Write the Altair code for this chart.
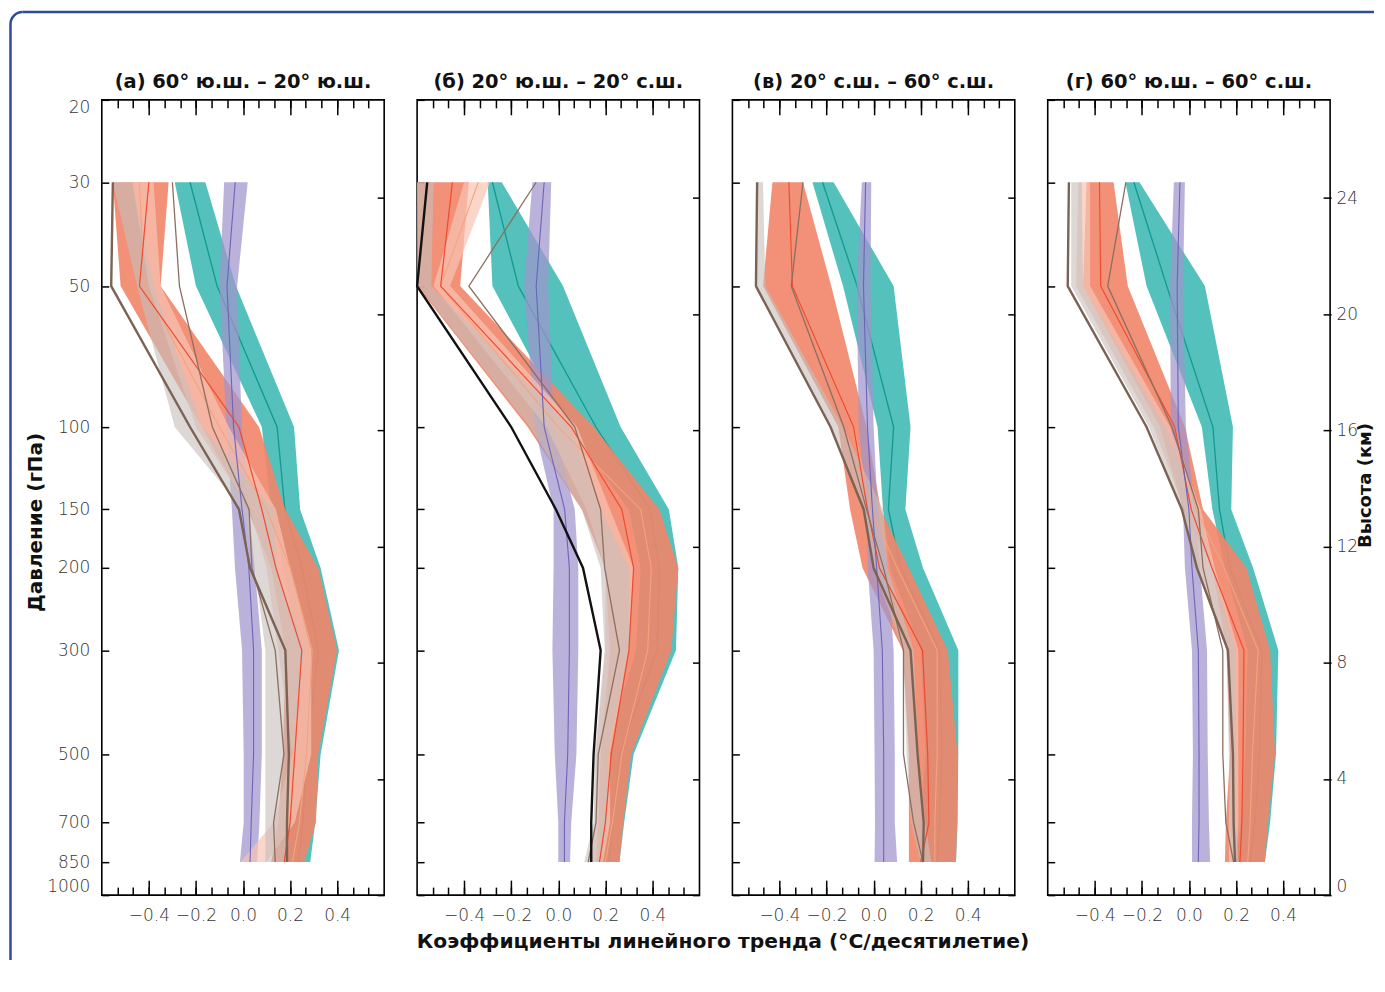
import math
import altair as alt
import pandas as pd

# ---------------- axis / text definitions ----------------
LEVELS = [30, 50, 100, 150, 200, 300, 500, 700, 850]
P_TICKS = [20, 30, 50, 100, 150, 200, 300, 500, 700, 850, 1000]
KM_TICKS = [0, 4, 8, 12, 16, 20, 24]
X_MAJOR = [-0.4, -0.2, 0.0, 0.2, 0.4]
X_MINOR = [round(-0.6 + k * 0.2 / 3, 4) for k in range(1, 18)]
SCALE_H = 7.0  # km, height = 7*ln(1000/p)
KM_AS_P = [1000 * math.exp(-z / SCALE_H) for z in KM_TICKS]

TITLES = ["(а) 60° ю.ш. – 20° ю.ш.", "(б) 20° ю.ш. – 20° с.ш.",
          "(в) 20° с.ш. – 60° с.ш.", "(г) 60° ю.ш. – 60° с.ш."]
X_TITLE = "Коэффициенты линейного тренда (°C/десятилетие)"
Y_TITLE = "Давление (гПа)"
Y2_TITLE = "Высота (км)"

# ---------------- data (°C/decade at LEVELS) ----------------
# panel (а)
A_TEAL_LO = [-0.29, -0.20, 0.08, 0.12, 0.17, 0.24, 0.21, 0.20, 0.18]
A_TEAL_HI = [-0.16, -0.03, 0.217, 0.243, 0.33, 0.408, 0.33, 0.307, 0.286]
A_TEAL_MID = [-0.225, -0.11, 0.145, 0.178, 0.25, 0.32, 0.27, 0.255, 0.235]
A_SALMON_LO = [-0.553, -0.52, -0.175, 0.02, 0.12, 0.18, 0.17, 0.15, 0.12]
A_SALMON_HI = [-0.316, -0.35, 0.068, 0.18, 0.32, 0.40, 0.32, 0.31, 0.26]
A_RED = [-0.40, -0.44, -0.017, 0.08, 0.14, 0.25, 0.22, 0.20, 0.175]
A_ORANGE = [-0.44, -0.42, -0.10, 0.10, 0.20, 0.294, 0.27, 0.24, 0.21]
A_PEACH_LO = [-0.47, -0.40, -0.20, 0.03, 0.10, 0.15, 0.21, 0.13, -0.01]
A_PEACH_HI = [-0.38, -0.35, -0.06, 0.14, 0.20, 0.29, 0.29, 0.22, 0.10]
A_GREY_LO = [-0.553, -0.45, -0.29, 0.0, 0.05, 0.095, 0.095, 0.095, 0.095]
A_GREY_HI = [-0.47, -0.38, -0.175, 0.13, 0.145, 0.26, 0.21, 0.18, 0.18]
A_PURPLE_LO = [-0.08, -0.10, -0.07, -0.047, -0.034, -0.004, 0.003, 0.003, -0.013]
A_PURPLE_HI = [0.02, -0.025, -0.005, 0.025, 0.05, 0.08, 0.08, 0.07, 0.06]
A_PURPLE_MID = [-0.033, -0.068, -0.04, -0.004, 0.025, 0.045, 0.045, 0.035, 0.03]
A_THICK = [-0.553, -0.56, -0.225, -0.017, 0.03, 0.18, 0.195, 0.187, 0.187]
A_THIN = [-0.30, -0.27, -0.13, 0.026, 0.038, 0.137, 0.174, 0.13, 0.137]

# panel (б)
B_TEAL_LO = [-0.30, -0.28, 0.04, 0.30, 0.35, 0.33, 0.20, 0.18, 0.17]
B_TEAL_HI = [-0.24, 0.02, 0.265, 0.47, 0.51, 0.50, 0.32, 0.28, 0.26]
B_TEAL_MID = [-0.28, -0.17, 0.16, 0.39, 0.43, 0.42, 0.26, 0.23, 0.215]
B_SALMON_LO = [-0.60, -0.60, -0.13, 0.10, 0.20, 0.22, 0.18, 0.17, 0.16]
B_SALMON_HI = [-0.38, -0.417, 0.15, 0.43, 0.51, 0.48, 0.31, 0.276, 0.26]
B_RED = [-0.45, -0.50, 0.055, 0.27, 0.32, 0.30, 0.225, 0.20, 0.175]
B_ORANGE = [-0.34, -0.50, 0.0, 0.35, 0.395, 0.38, 0.27, 0.23, 0.20]
B_PEACH_LO = [-0.40, -0.53, -0.05, 0.12, 0.20, 0.20, 0.16, 0.16, 0.13]
B_PEACH_HI = [-0.29, -0.46, 0.08, 0.22, 0.32, 0.30, 0.22, 0.22, 0.19]
B_GREY_LO = [-0.60, -0.596, -0.12, 0.10, 0.18, 0.197, 0.155, 0.15, 0.11]
B_GREY_HI = [-0.53, -0.54, 0.05, 0.18, 0.30, 0.30, 0.21, 0.21, 0.18]
B_PURPLE_LO = [-0.11, -0.145, -0.10, -0.02, -0.02, -0.025, -0.015, 0.0, 0.0]
B_PURPLE_HI = [-0.03, -0.043, -0.02, 0.07, 0.085, 0.085, 0.077, 0.055, 0.05]
B_PURPLE_MID = [-0.06, -0.094, -0.06, 0.027, 0.047, 0.047, 0.04, 0.026, 0.026]
B_THIN = [-0.094, -0.38, 0.07, 0.18, 0.197, 0.26, 0.17, 0.16, 0.127]
B_BLACK = [-0.557, -0.60, -0.20, -0.01, 0.105, 0.18, 0.15, 0.14, 0.14]

# panel (в)
C_TEAL_LO = [-0.26, -0.13, 0.017, 0.04, 0.07, 0.20, 0.22, 0.20, 0.20]
C_TEAL_HI = [-0.17, 0.085, 0.157, 0.135, 0.21, 0.36, 0.36, 0.357, 0.35]
C_TEAL_MID = [-0.217, -0.07, 0.085, 0.063, 0.115, 0.28, 0.29, 0.28, 0.27]
C_SALMON_LO = [-0.43, -0.47, -0.15, -0.10, -0.047, 0.124, 0.15, 0.15, 0.15]
C_SALMON_HI = [-0.30, -0.18, -0.03, 0.03, 0.15, 0.315, 0.357, 0.355, 0.35]
C_RED = [-0.36, -0.345, -0.085, -0.026, 0.025, 0.208, 0.23, 0.235, 0.20]
C_ORANGE = [-0.36, -0.345, -0.085, -0.01, 0.10, 0.27, 0.27, 0.26, 0.26]
C_GREY_LO = [-0.495, -0.50, -0.183, -0.042, 0.0, 0.127, 0.14, 0.16, 0.20]
C_GREY_HI = [-0.47, -0.46, -0.13, 0.04, 0.06, 0.17, 0.19, 0.22, 0.245]
C_PURPLE_LO = [-0.05, -0.072, -0.063, -0.03, -0.025, 0.0, 0.004, 0.006, 0.004]
C_PURPLE_HI = [-0.01, -0.013, 0.0, 0.017, 0.06, 0.085, 0.09, 0.09, 0.1]
C_PURPLE_MID = [-0.034, -0.043, -0.026, -0.005, 0.013, 0.037, 0.043, 0.043, 0.043]
C_THICK = [-0.495, -0.50, -0.183, -0.042, 0.0, 0.157, 0.187, 0.213, 0.21]
C_THIN = [-0.30, -0.35, -0.127, -0.03, 0.042, 0.127, 0.127, 0.17, 0.21]

# panel (г)
D_TEAL_LO = [-0.27, -0.18, 0.055, 0.10, 0.153, 0.25, 0.24, 0.22, 0.20]
D_TEAL_HI = [-0.21, 0.068, 0.187, 0.18, 0.273, 0.38, 0.37, 0.345, 0.323]
D_TEAL_MID = [-0.234, -0.094, 0.102, 0.13, 0.174, 0.31, 0.30, 0.28, 0.26]
D_SALMON_LO = [-0.435, -0.45, -0.123, -0.025, 0.10, 0.16, 0.175, 0.157, 0.153]
D_SALMON_HI = [-0.32, -0.26, -0.017, 0.06, 0.245, 0.345, 0.366, 0.336, 0.323]
D_RED = [-0.38, -0.375, -0.06, 0.01, 0.098, 0.234, 0.23, 0.225, 0.217]
D_ORANGE = [-0.38, -0.375, -0.06, 0.03, 0.15, 0.294, 0.27, 0.26, 0.25]
D_PEACH_LO = [-0.47, -0.48, -0.15, -0.02, 0.04, 0.17, 0.18, 0.17, 0.17]
D_PEACH_HI = [-0.42, -0.42, -0.08, 0.05, 0.11, 0.21, 0.21, 0.21, 0.20]
D_GREY_LO = [-0.50, -0.50, -0.17, -0.03, 0.03, 0.16, 0.17, 0.17, 0.18]
D_GREY_HI = [-0.455, -0.45, -0.10, 0.04, 0.10, 0.20, 0.20, 0.20, 0.21]
D_PURPLE_LO = [-0.064, -0.08, -0.077, -0.025, -0.017, 0.013, 0.017, 0.013, 0.013]
D_PURPLE_HI = [-0.017, -0.025, -0.013, 0.025, 0.047, 0.077, 0.08, 0.085, 0.09]
D_PURPLE_MID = [-0.038, -0.05, -0.045, 0.0, 0.013, 0.04, 0.043, 0.043, 0.04]
D_THICK = [-0.51, -0.515, -0.18, -0.03, 0.034, 0.166, 0.187, 0.19, 0.196]
D_THIN = [-0.268, -0.345, -0.072, 0.04, 0.06, 0.144, 0.144, 0.157, 0.19]

PANELS = [
    dict(teal=(A_TEAL_LO, A_TEAL_HI), teal_mid=A_TEAL_MID, salmon=(A_SALMON_LO, A_SALMON_HI),
         red=A_RED, orange=A_ORANGE, peach=(A_PEACH_LO, A_PEACH_HI), grey=(A_GREY_LO, A_GREY_HI),
         purple=(A_PURPLE_LO, A_PURPLE_HI), purple_mid=A_PURPLE_MID, thick=A_THICK, thin=A_THIN),
    dict(teal=(B_TEAL_LO, B_TEAL_HI), teal_mid=B_TEAL_MID, salmon=(B_SALMON_LO, B_SALMON_HI),
         red=B_RED, orange=B_ORANGE, peach=(B_PEACH_LO, B_PEACH_HI), grey=(B_GREY_LO, B_GREY_HI),
         purple=(B_PURPLE_LO, B_PURPLE_HI), purple_mid=B_PURPLE_MID, thin=B_THIN, black=B_BLACK),
    dict(teal=(C_TEAL_LO, C_TEAL_HI), teal_mid=C_TEAL_MID, salmon=(C_SALMON_LO, C_SALMON_HI),
         red=C_RED, orange=C_ORANGE, grey=(C_GREY_LO, C_GREY_HI),
         purple=(C_PURPLE_LO, C_PURPLE_HI), purple_mid=C_PURPLE_MID, thick=C_THICK, thin=C_THIN),
    dict(teal=(D_TEAL_LO, D_TEAL_HI), teal_mid=D_TEAL_MID, salmon=(D_SALMON_LO, D_SALMON_HI),
         red=D_RED, orange=D_ORANGE, peach=(D_PEACH_LO, D_PEACH_HI), grey=(D_GREY_LO, D_GREY_HI),
         purple=(D_PURPLE_LO, D_PURPLE_HI), purple_mid=D_PURPLE_MID, thick=D_THICK, thin=D_THIN),
]

# ---------------- styling ----------------
TEAL, TEAL_LINE = "#45bcb7", "#119a8d"
SALMON, RED_LINE, ORANGE_LINE = "#f18569", "#ee4b2f", "#f4a47f"
PURPLE, PURPLE_LINE = "#9f94cc", "#6e63b8"
PEACH, GREY = "#f8c4b3", "#c8bebb"
THICK_C, THIN_C, BLACK_C = "#7b6253", "#8c6f60", "#111111"
FRAME = "#2f4a9c"
LABEL_FONT = "DejaVu Sans"
BOLD_FONT = "DejaVu Sans"

W, H = 283, 797
XS = alt.Scale(domain=[-0.6, 0.6], nice=False, zero=False)
YS = alt.Scale(type="log", domain=[20, 1000], reverse=True, nice=False)
ONE = pd.DataFrame({"k": [0]})


def x_axis(kind, idx):
    common = dict(domain=False, grid=False, tickColor="black", tickWidth=1.5)
    if kind == "bmaj":
        ax = dict(orient="bottom", values=X_MAJOR, format=".1f", offset=-15, tickSize=15,
                  labelPadding=12, labelFont=LABEL_FONT, labelFontSize=17, labelColor="#333333",
                  labelFontWeight=300)
        if idx == 1:
            ax.update(title=X_TITLE, titleFont=BOLD_FONT, titleFontSize=20.3,
                      titleFontWeight="bold", titleColor="#111111", titleX=306, titleY=52,
                      titleAlign="center")
        else:
            ax.update(title=None)
        return alt.Axis(**ax, **common)
    if kind == "bmin":
        return alt.Axis(orient="bottom", values=X_MINOR, offset=-8, tickSize=8, labels=False,
                        title=None, **common)
    if kind == "tmaj":
        return alt.Axis(orient="top", values=X_MAJOR, offset=-15, tickSize=15, labels=False,
                        title=None, **common)
    return alt.Axis(orient="top", values=X_MINOR, offset=-8, tickSize=8, labels=False,
                    title=None, **common)


def y_axis(kind, idx):
    common = dict(domain=False, grid=False, tickColor="black", tickWidth=1.5)
    if kind == "left":
        if idx == 0:
            return alt.Axis(orient="left", values=P_TICKS, format="d", offset=-7, tickSize=7,
                            labelPadding=12, labelFlush=True, labelFont=LABEL_FONT,
                            labelFontSize=17, labelColor="#333333", labelFontWeight=300,
                            title=Y_TITLE, titleFont=BOLD_FONT, titleFontSize=20,
                            titleFontWeight="bold", titleColor="#111111", titlePadding=1,
                            titleY=423, **common)
        return alt.Axis(orient="left", values=P_TICKS, offset=-7, tickSize=7, labels=False,
                        title=None, **common)
    if idx == 3:
        return alt.Axis(orient="right", values=KM_AS_P, offset=-7, tickSize=8, labelPadding=5,
                        labelFlush=True, labelExpr="format(7 * log(1000 / datum.value), '.0f')",
                        labelFont=LABEL_FONT, labelFontSize=17, labelColor="#333333",
                        labelFontWeight=300,
                        title=Y2_TITLE, titleFont=BOLD_FONT, titleFontSize=18,
                        titleFontWeight="bold", titleColor="#111111", titleAngle=270,
                        titleBaseline="top", titleAlign="center", titleX=33.5, titleY=386,
                        **common)
    return alt.Axis(orient="right", values=KM_AS_P, offset=-7, tickSize=7, labels=False,
                    title=None, **common)


def band(lo, hi, color, opacity, xax=None, yax=None):
    df = pd.DataFrame({"p": LEVELS, "lo": lo, "hi": hi})
    return alt.Chart(df).mark_area(orient="horizontal", color=color, opacity=opacity).encode(
        x=alt.X("lo:Q", scale=XS, axis=xax, stack=None),
        x2="hi:Q",
        y=alt.Y("p:Q", scale=YS, axis=yax),
    )


def line(vals, color, width, xax=None, yax=None):
    df = pd.DataFrame({"p": LEVELS, "v": vals})
    return alt.Chart(df).mark_line(color=color, strokeWidth=width).encode(
        x=alt.X("v:Q", scale=XS, axis=xax),
        y=alt.Y("p:Q", scale=YS, axis=yax),
        order=alt.Order("p:Q"),
    )


def make_panel(i, d):
    layers = [
        band(*d["teal"], TEAL, 0.92, x_axis("bmaj", i), y_axis("left", i)),
        line(d["teal_mid"], TEAL_LINE, 1.3, x_axis("bmin", i), y_axis("right", i)),
        band(*d["salmon"], SALMON, 0.9, x_axis("tmaj", i)),
        band(*d["purple"], PURPLE, 0.72, x_axis("tmin", i)),
    ]
    if "peach" in d:
        layers.append(band(*d["peach"], PEACH, 0.7))
    layers.append(band(*d["grey"], GREY, 0.62))
    layers.append(line(d["orange"], ORANGE_LINE, 1.1))
    layers.append(line(d["red"], RED_LINE, 1.2))
    layers.append(line(d["purple_mid"], PURPLE_LINE, 1.1))
    layers.append(line(d["thin"], THIN_C, 1.3))
    if "thick" in d:
        layers.append(line(d["thick"], THICK_C, 2.4))
    if "black" in d:
        layers.append(line(d["black"], BLACK_C, 2.4))
    # panel heading as a text mark above the frame of the plot
    layers.append(alt.Chart(ONE).mark_text(
        text=TITLES[i], font=BOLD_FONT, fontSize=19.5, fontWeight="bold", color="#111111",
        align="center", baseline="alphabetic").encode(x=alt.value(W / 2), y=alt.value(-12)))
    if i == 0:
        layers.append(alt.Chart(ONE).mark_rule(color=FRAME, strokeWidth=2.5).encode(
            x=alt.value(-91.5), y=alt.value(-76), y2=alt.value(862)))
        layers.append(alt.Chart(ONE).mark_rule(color=FRAME, strokeWidth=2.5).encode(
            x=alt.value(-79.5), x2=alt.value(1275), y=alt.value(-88)))
        layers.append(alt.Chart(ONE).mark_arc(color=FRAME, radius=13.25, radius2=10.75,
                                              theta=4.7124, theta2=6.2832).encode(
            x=alt.value(-79.5), y=alt.value(-76)))
    return alt.layer(*layers).resolve_axis(x="independent", y="independent").properties(
        width=W, height=H)


panels = [make_panel(i, d) for i, d in enumerate(PANELS)]
chart = alt.hconcat(*panels, spacing=33, bounds="flush").properties(
    padding={"left": 0, "top": 0, "right": 0, "bottom": 0}
).configure(padding=0).configure_view(stroke="black", strokeWidth=1.6)

chart.save("out.html", embed_options={"renderer": "svg", "actions": False})
